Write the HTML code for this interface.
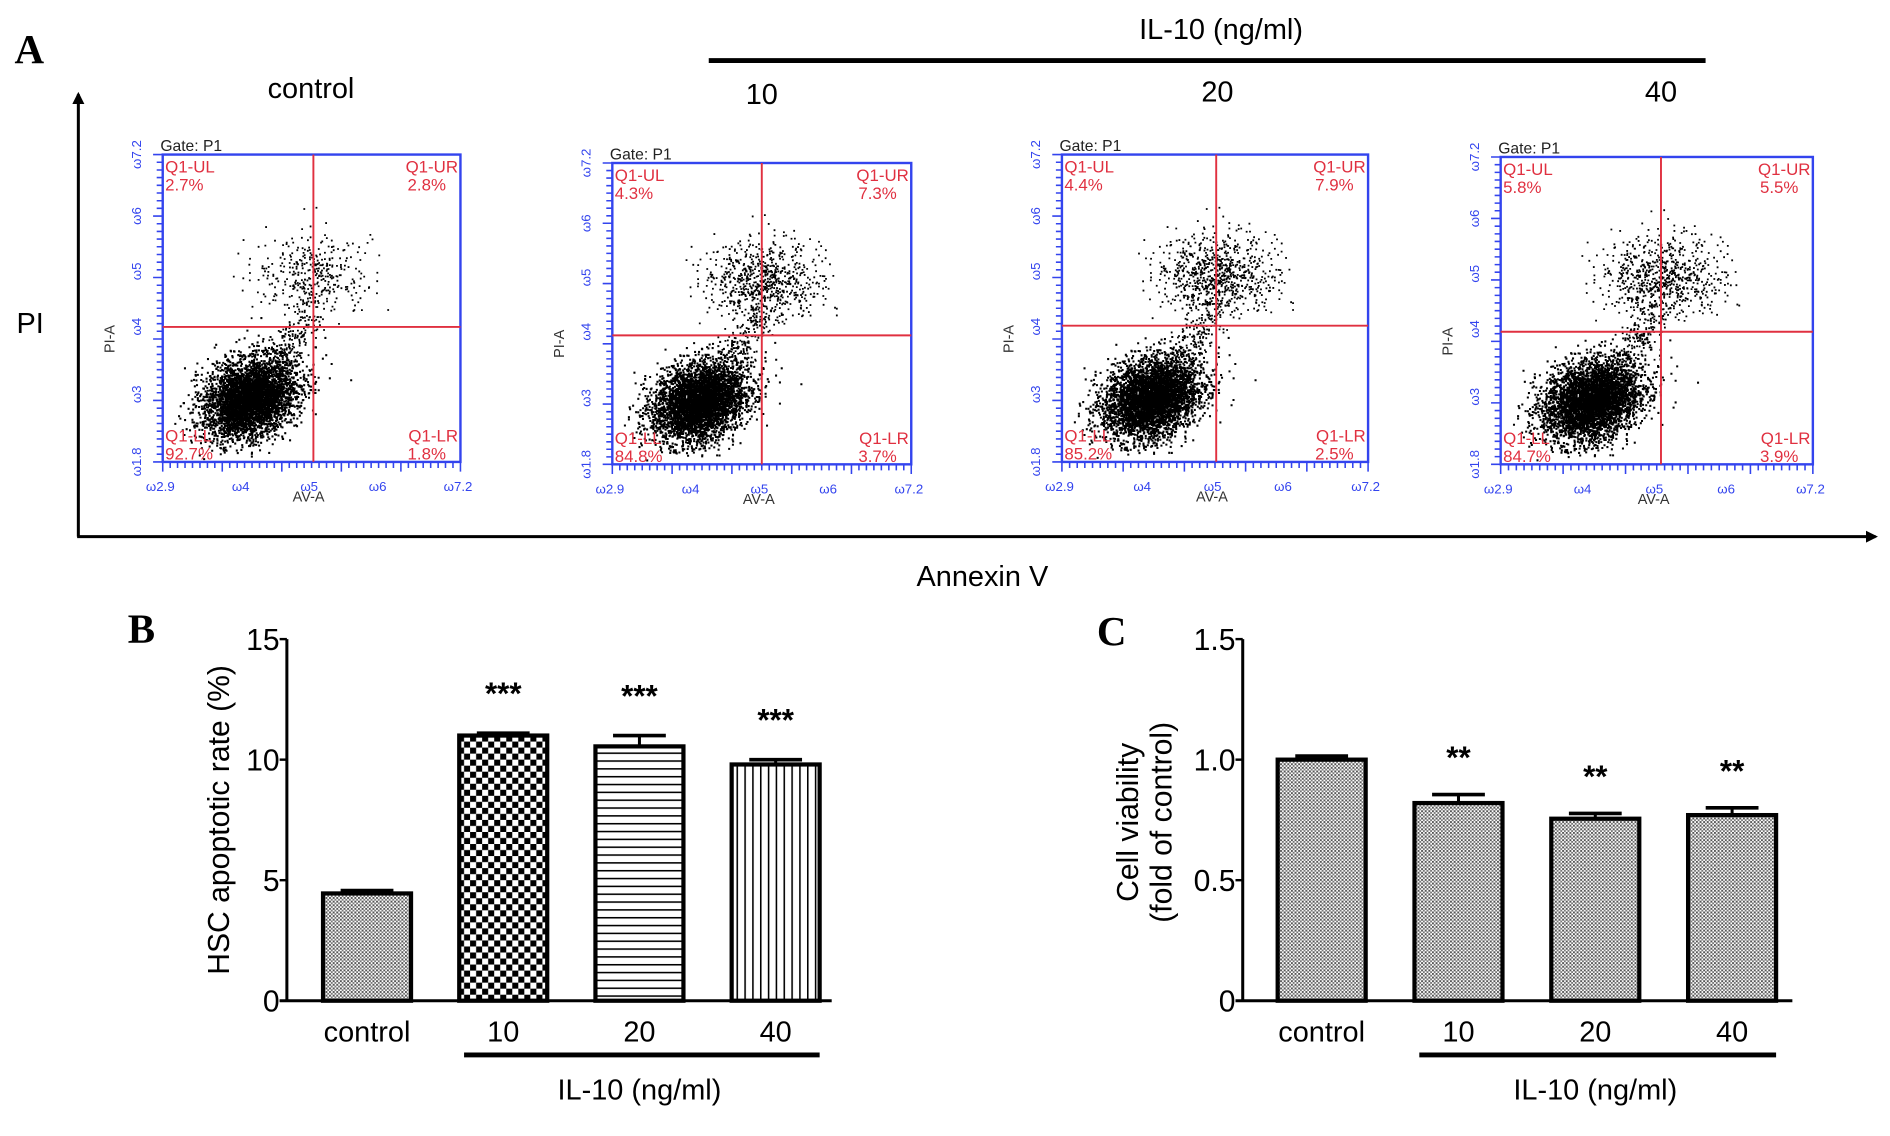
<!DOCTYPE html>
<html><head><meta charset="utf-8"><style>
html,body{margin:0;padding:0;background:#fff;}
svg{display:block;font-family:"Liberation Sans",Arial,sans-serif;}
</style></head><body>
<svg id="fig" width="1890" height="1136" viewBox="0 0 1568 942" xmlns="http://www.w3.org/2000/svg">
<defs>
<pattern id="pFine" width="3" height="3" patternUnits="userSpaceOnUse"><rect width="3" height="3" fill="#fff"/><rect width="1.6" height="1.6" fill="#555"/><rect x="1.5" y="1.5" width="1.5" height="1.5" fill="#777"/></pattern>
<pattern id="pCheck" width="10" height="10" patternUnits="userSpaceOnUse"><rect width="10" height="10" fill="#fff"/><rect width="5" height="5" fill="#000"/><rect x="5" y="5" width="5" height="5" fill="#000"/></pattern>
<pattern id="pHor" width="6" height="6.5" patternUnits="userSpaceOnUse"><rect width="6" height="6.5" fill="#fff"/><rect y="0" width="6" height="1.3" fill="#000"/></pattern>
<pattern id="pVer" width="6.5" height="6" patternUnits="userSpaceOnUse"><rect width="6.5" height="6" fill="#fff"/><rect x="0" width="1.3" height="6" fill="#000"/></pattern>
<marker id="arr" markerWidth="10" markerHeight="10" refX="8" refY="5" orient="auto" markerUnits="userSpaceOnUse"><path d="M0,0 L10,5 L0,10 Z" fill="#000"/></marker>
</defs>

<text x="12" y="52" font-family="Liberation Serif,serif" font-weight="bold" font-size="34">A</text>
<text x="1013" y="32" font-size="24" text-anchor="middle">IL-10 (ng/ml)</text>
<line x1="588" y1="50" x2="1415" y2="50" stroke="#000" stroke-width="4"/>
<text x="258" y="81" font-size="24" text-anchor="middle">control</text>
<text x="632" y="86" font-size="24" text-anchor="middle">10</text>
<text x="1010" y="84" font-size="24" text-anchor="middle">20</text>
<text x="1378" y="84" font-size="24" text-anchor="middle">40</text>
<line x1="65" y1="445" x2="65" y2="78" stroke="#000" stroke-width="2.5" marker-end="url(#arr)"/>
<line x1="64" y1="445" x2="1556" y2="445" stroke="#000" stroke-width="2.5" marker-end="url(#arr)"/>
<text x="25" y="276" font-size="24" text-anchor="middle">PI</text>
<text x="815" y="486" font-size="24" text-anchor="middle">Annexin V</text>
<g id="flows"></g>

<text x="106" y="533" font-family="Liberation Serif,serif" font-weight="bold" font-size="34">B</text>
<g id="chartB"></g>
<text x="910" y="535" font-family="Liberation Serif,serif" font-weight="bold" font-size="34">C</text>
<g id="chartC"></g>
</svg>
<script>
const categories = ["control","10","20","40"];
const apoptosisValues = [4.45, 11.0, 10.55, 9.8];
const apoptosisErrors = [0.12, 0.1, 0.45, 0.2];
const apoptosisStars = ["", "***", "***", "***"];
const apoptosisTicks = [0, 5, 10, 15];
const viabilityValues = [1.0, 0.82, 0.755, 0.77];
const viabilityErrors = [0.015, 0.035, 0.022, 0.03];
const viabilityStars = ["", "**", "**", "**"];
const viabilityTicks = [0, 0.5, 1.0, 1.5];
const viabilityTickLabels = ["0","0.5","1.0","1.5"];
const flowUL = ["2.7%","4.3%","4.4%","5.8%"];
const flowUR = ["2.8%","7.3%","7.9%","5.5%"];
const flowLL = ["92.7%","84.8%","85.2%","84.7%"];
const flowLR = ["1.8%","3.7%","2.5%","3.9%"];
const flowUpperFraction = [0.055, 0.11, 0.12, 0.11];

const NS = "http://www.w3.org/2000/svg";
function mk(tag, attrs, parent){const e=document.createElementNS(NS,tag);for(const k in attrs)e.setAttribute(k,attrs[k]);parent.appendChild(e);return e;}

function barChart(g, cfg){
  const yS = v => cfg.y0 - (v - 0)/(cfg.max)*(cfg.y0 - cfg.yTop);
  const ax = mk('line',{x1:cfg.axX,y1:cfg.yTop,x2:cfg.axX,y2:cfg.y0,stroke:'#000','stroke-width':2.5},g);
  
  
  const bx = mk('line',{x1:cfg.axX-6,y1:cfg.y0,x2:cfg.xEnd,y2:cfg.y0,stroke:'#000','stroke-width':2.5},g);
  
  
  cfg.ticks.forEach((t,i)=>{
    const y=yS(t);
    const tl=mk('line',{x1:cfg.axX-6,y1:y,x2:cfg.axX,y2:y,stroke:'#000','stroke-width':2},g);
    
    
    const tx=mk('text',{x:cfg.axX-6,y:y+9,'font-size':25,'text-anchor':'end'},g);
    tx.textContent=cfg.tickLabels[i];
    
    
  });
  cfg.values.forEach((v,i)=>{
    const x=cfg.barX0 + i*cfg.step, w=cfg.barW, cx=x+w/2;
    const top=yS(v), et=yS(v+cfg.errors[i]);
    const el=mk('line',{x1:cx,y1:top,x2:cx,y2:et,stroke:'#000','stroke-width':2.5},g);
    
    
    const ec=mk('line',{x1:cx-w*0.3,y1:et,x2:cx+w*0.3,y2:et,stroke:'#000','stroke-width':3},g);
    
    
    const r=mk('rect',{x:x,y:top,width:w,height:cfg.y0-top,fill:cfg.fills[i],stroke:'#000','stroke-width':3.5},g);
    
    
    if(cfg.stars[i]){
      const s=mk('text',{x:cx,y:et-cfg.starGap,'font-size':26,'font-weight':'bold','text-anchor':'middle'},g);
      s.textContent=cfg.stars[i];
      
      
    }
    const lb=mk('text',{x:cx,y:cfg.y0+34,'font-size':24,'text-anchor':'middle'},g);
    lb.textContent=categories[i];
    
    
  });
  const ul=mk('line',{x1:cfg.barX0+cfg.step+4,y1:cfg.y0+45,x2:cfg.barX0+3*cfg.step+cfg.barW,y2:cfg.y0+45,stroke:'#000','stroke-width':4},g);
  
  
  const gl=mk('text',{x:cfg.barX0+2*cfg.step+cfg.barW/2,y:cfg.y0+82,'font-size':24,'text-anchor':'middle'},g);
  gl.textContent='IL-10 (ng/ml)';
  
  
  cfg.title.forEach((t,j)=>{
    const tx=cfg.titleX + j*28;
    const tt=mk('text',{x:tx,y:cfg.titleY,'font-size':25,'text-anchor':'middle',transform:`rotate(-90 ${tx} ${cfg.titleY})`},g);
    tt.textContent=t;
    
    
  });
}

barChart(document.getElementById('chartB'),{axX:238,yTop:530,y0:830,max:15,xEnd:690,barX0:268,step:113,barW:73,
  values:apoptosisValues,errors:apoptosisErrors,stars:apoptosisStars,ticks:apoptosisTicks,tickLabels:apoptosisTicks.map(String),
  fills:['url(#pFine)','url(#pCheck)','url(#pHor)','url(#pVer)'],starGap:24,title:['HSC apoptotic rate (%)'],titleX:190,titleY:680});
barChart(document.getElementById('chartC'),{axX:1031,yTop:530,y0:830,max:1.5,xEnd:1487,barX0:1060,step:113.5,barW:73,
  values:viabilityValues,errors:viabilityErrors,stars:viabilityStars,ticks:viabilityTicks,tickLabels:viabilityTickLabels,
  fills:['url(#pFine)','url(#pFine)','url(#pFine)','url(#pFine)'],starGap:22,title:['Cell viability','(fold of control)'],titleX:944,titleY:682});

const boxes=[[135,128,382,383,260,271],[508,135,756,385,632,278],[881,128,1135,383,1009,270],[1245,130,1504,385,1378,275]];
let seed=12345;
function rnd(){seed=(seed*1103515245+12345)%2147483648;return seed/2147483648;}
function gauss(){let u=rnd()||1e-6,v=rnd();return Math.sqrt(-2*Math.log(u))*Math.cos(2*Math.PI*v);}
const fg=document.getElementById('flows');
boxes.forEach((b,i)=>{
  const [x0,y0,x1,y1,cx,cy]=b, W=x1-x0, H=y1-y0;
  const g=mk('g',{},fg);
  
  
  let d='';
  const N=4200, up=Math.round(N*flowUpperFraction[i]*1.6);
  for(let k=0;k<N;k++){
    let px=x0+W*0.29+gauss()*W*0.075, py=y0+H*0.79+gauss()*H*0.065;
    px+= (y0+H*0.79-py)*0.3;
    if(px<x0+2||px>x1-2||py<y0+2||py>y1-2) continue;
    d+=`M${px.toFixed(1)},${py.toFixed(1)}h1.7v1.7h-1.7z`;
  }
  for(let k=0;k<up;k++){
    let px=cx+gauss()*W*0.1, py=y0+H*0.39+gauss()*H*0.065;
    if(px<x0+2||px>x1-2||py<y0+2||py>y1-2) continue;
    d+=`M${px.toFixed(1)},${py.toFixed(1)}h1.5v1.5h-1.5z`;
  }
  for(let k=0;k<180;k++){
    let t=rnd();
    let px=x0+W*(0.38+t*0.12)+gauss()*7, py=y0+H*(0.68-t*0.18)+gauss()*6;
    d+=`M${px.toFixed(1)},${py.toFixed(1)}h1.5v1.5h-1.5z`;
  }
  const dots=mk('path',{d:d,fill:'#000'},g);
  
  
  const fr=mk('rect',{x:x0,y:y0,width:W,height:H,fill:'none',stroke:'#3344ee','stroke-width':2},g);
  
  
  let t='';
  for(let k=0;k<=40;k++){const yy=y0+H*k/40;t+=`M${x0-(k%8==0?8:5)},${yy.toFixed(1)}h${k%8==0?8:5}`;}
  for(let k=0;k<=40;k++){const xx=x0+W*k/40;t+=`M${xx.toFixed(1)},${y1}v${k%8==0?8:5}`;}
  const tk=mk('path',{d:t,stroke:'#3344ee','stroke-width':1.3,fill:'none'},g);
  
  
  const ql=mk('line',{x1:cx,y1:y0,x2:cx,y2:y1,stroke:'#e03040','stroke-width':1.6},g);
  
  
  const qh=mk('line',{x1:x0,y1:cy,x2:x1,y2:cy,stroke:'#e03040','stroke-width':1.6},g);
  
  
  const txt=(s,x,y,attrs,name)=>{const e=mk('text',Object.assign({x:x,y:y},attrs),g);e.textContent=s;return e;};
  const red={fill:'#e03040','font-size':14};
  txt('Q1-UL',x0+2,y0+15,red,'q-ul-label');txt(flowUL[i],x0+2,y0+30,red,'q-ul-value');
  txt('Q1-UR',x1-2,y0+15,Object.assign({'text-anchor':'end'},red),'q-ur-label');txt(flowUR[i],x1-12,y0+30,Object.assign({'text-anchor':'end'},red),'q-ur-value');
  txt('Q1-LL',x0+2,y1-17,red,'q-ll-label');txt(flowLL[i],x0+2,y1-2,red,'q-ll-value');
  txt('Q1-LR',x1-2,y1-17,Object.assign({'text-anchor':'end'},red),'q-lr-label');txt(flowLR[i],x1-12,y1-2,Object.assign({'text-anchor':'end'},red),'q-lr-value');
  txt('Gate: P1',x0-2,y0-3,{'font-size':13,fill:'#222'},'gate-label');
  txt('AV-A',x0+W*0.49,y1+33,{'font-size':12,fill:'#333','text-anchor':'middle'},'x-axis-title');
  const yx=x0-40, yy=y0+H*0.6;
  txt('PI-A',yx,yy,{'font-size':12,fill:'#333','text-anchor':'middle',transform:`rotate(-90 ${yx} ${yy})`},'y-axis-title');
  const xl=['2.9','4','5','6','7.2'];
  xl.forEach((s,k)=>txt('\u03c9'+s,x0+W*[0,0.27,0.5,0.73,1][k]-2,y1+24,{'font-size':11,fill:'#3344ee','text-anchor':'middle'},'x-tick-label'));
  const yl=['1.8','3','4','5','6','7.2'];
  yl.forEach((s,k)=>{const yv=y1-H*[0,0.22,0.44,0.62,0.8,1][k];const xx=x0-18;txt('\u03c9'+s,xx,yv,{'font-size':11,fill:'#3344ee','text-anchor':'middle',transform:`rotate(-90 ${xx} ${yv})`},'y-tick-label');});
});
</script>
</body></html>
